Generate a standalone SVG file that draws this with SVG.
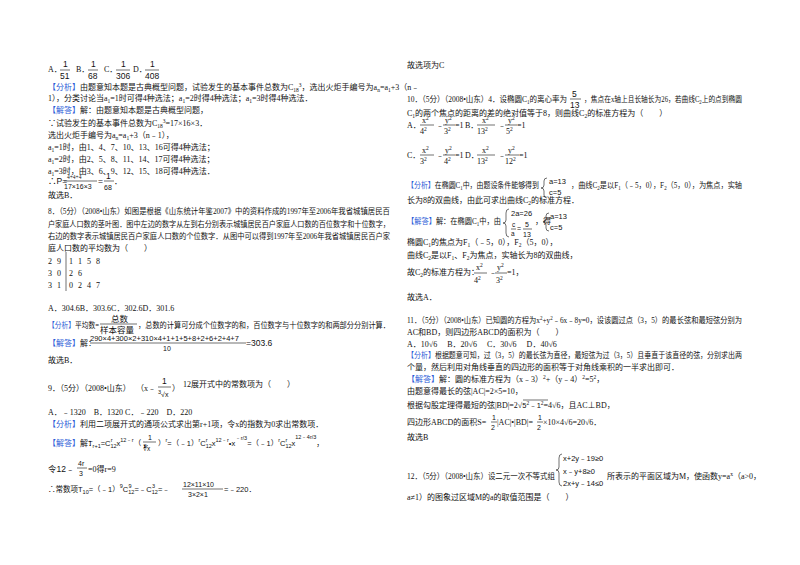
<svg xmlns="http://www.w3.org/2000/svg" width="800" height="565" viewBox="0 0 800 565">
<style>
text{font-family:"Liberation Serif","Noto Sans CJK SC",serif;font-size:8px;fill:#111}
.b{fill:#2a5bd7}
.s{font-size:5.5px}
.f{font-family:"Liberation Sans","Noto Sans CJK SC",sans-serif;font-size:8.5px}
line{stroke:#111;stroke-width:0.6}
path{stroke:#111;stroke-width:0.6;fill:none}
</style>
<rect width="800" height="565" fill="#fff"/>
<g id="left">
<text x="48" y="72">A．</text><text x="63" y="67" class="f">1</text><line x1="60" y1="70" x2="70" y2="70"/><text x="60" y="79" class="f">51</text>
<text x="76" y="72">B．</text><text x="91" y="67" class="f">1</text><line x1="88" y1="70" x2="98" y2="70"/><text x="88" y="79" class="f">68</text>
<text x="104" y="72">C．</text><text x="121" y="67" class="f">1</text><line x1="116" y1="70" x2="130" y2="70"/><text x="116" y="79" class="f">306</text>
<text x="133" y="72">D．</text><text x="150" y="67" class="f">1</text><line x1="145" y1="70" x2="159" y2="70"/><text x="145" y="79" class="f">408</text>
<text x="48" y="90"><tspan class="b">【分析】</tspan>由题意知本题是古典概型问题，试验发生的基本事件总数为C<tspan class="s" dy="2">18</tspan><tspan class="s" dy="-5">3</tspan><tspan dy="3">，选出火炬手编号为a</tspan><tspan class="s" dy="2">n</tspan><tspan dy="-2">=a</tspan><tspan class="s" dy="2">1</tspan><tspan dy="-2">+3（n﹣</tspan></text>
<text x="48" y="101">1），分类讨论当a<tspan class="s" dy="2">1</tspan><tspan dy="-2">=1时可得4种选法；a</tspan><tspan class="s" dy="2">1</tspan><tspan dy="-2">=2时得4种选法；a</tspan><tspan class="s" dy="2">1</tspan><tspan dy="-2">=3时得4种选法．</tspan></text>
<text x="48" y="113"><tspan class="b">【解答】</tspan>解：由题意知本题是古典概型问题，</text>
<text x="48" y="126">∵试验发生的基本事件总数为C<tspan class="s" dy="2">18</tspan><tspan class="s" dy="-5">3</tspan><tspan dy="3">=17×16×3．</tspan></text>
<text x="48" y="138">选出火炬手编号为a<tspan class="s" dy="2">n</tspan><tspan dy="-2">=a</tspan><tspan class="s" dy="2">1</tspan><tspan dy="-2">+3（n﹣1），</tspan></text>
<text x="48" y="150">a<tspan class="s" dy="2">1</tspan><tspan dy="-2">=1时，由1、4、7、10、13、16可得4种选法；</tspan></text>
<text x="48" y="162">a<tspan class="s" dy="2">1</tspan><tspan dy="-2">=2时，由2、5、8、11、14、17可得4种选法；</tspan></text>
<text x="48" y="174">a<tspan class="s" dy="2">1</tspan><tspan dy="-2">=3时，由3、6、9、12、15、18可得4种选法．</tspan></text>
<text x="48" y="184" class="f">∴P=</text><text x="67" y="179" class="s">4+4+4</text><line x1="64" y1="181" x2="97" y2="181"/><text x="64" y="189" class="f" style="font-size:7px">17×16×3</text>
<text x="98" y="184" class="f">=</text><text x="106" y="179" class="f">1</text><line x1="104" y1="181" x2="114" y2="181"/><text x="104" y="190" class="f" style="font-size:7px">68</text><text x="114" y="184">．</text>
<text x="48" y="198">故选B．</text>
<text x="48" y="214" textLength="342" lengthAdjust="spacingAndGlyphs">8．（5分）（2008•山东）如图是根据《山东统计年鉴2007》中的资料作成的1997年至2006年我省城镇居民百</text>
<text x="48" y="227" textLength="342" lengthAdjust="spacingAndGlyphs">户家庭人口数的茎叶图．图中左边的数字从左到右分别表示城镇居民百户家庭人口数的百位数字和十位数字，</text>
<text x="48" y="239" textLength="342" lengthAdjust="spacingAndGlyphs">右边的数字表示城镇居民百户家庭人口数的个位数字．从图中可以得到1997年至2006年我省城镇居民百户家</text>
<text x="48" y="251">庭人口数的平均数为（　　）</text>
<line x1="66" y1="252" x2="66" y2="291"/>
<text x="48" y="264">2</text><text x="57" y="264">9</text><text x="69" y="264">1</text><text x="78" y="264">1</text><text x="87" y="264">5</text><text x="96" y="264">8</text>
<text x="48" y="276">3</text><text x="57" y="276">0</text><text x="69" y="276">2</text><text x="78" y="276">6</text>
<text x="48" y="288">3</text><text x="57" y="288">1</text><text x="69" y="288">0</text><text x="78" y="288">2</text><text x="87" y="288">4</text><text x="96" y="288">7</text>
<text x="48" y="311">A．304.6B．303.6C．302.6D．301.6</text>
<text x="48" y="328" textLength="51" lengthAdjust="spacingAndGlyphs"><tspan class="b">【分析】</tspan>平均数=</text><text x="111" y="322" class="f">总数</text><line x1="100" y1="324" x2="137" y2="324"/><text x="100" y="333" class="f">样本容量</text>
<text x="138" y="328" textLength="252" lengthAdjust="spacingAndGlyphs">，总数的计算可分成个位数字的和，百位数字与十位数字的和两部分分别计算．</text>
<text x="48" y="346"><tspan class="b">【解答】</tspan>解：</text><text x="90" y="341" class="f" style="font-size:7.5px">290×4+300×2+310×4+1+1+5+8+2+6+2+4+7</text><line x1="90" y1="343" x2="246" y2="343"/><text x="163" y="351" class="f" style="font-size:7px">10</text><text x="246" y="346" class="f">=303.6</text>
<text x="48" y="363">故选B．</text>
<text x="48" y="391">9．（5分）（2008•山东）</text><text x="136" y="391">（x﹣</text><text x="162" y="384" class="f">1</text><line x1="158" y1="387" x2="171" y2="387"/><text x="158" y="397" class="f" style="font-size:7px"><tspan class="s" dy="-3">3</tspan><tspan dy="3">√x</tspan></text><text x="172" y="391">）</text>
<text x="183" y="387">12展开式中的常数项为（　　）</text>
<text x="48" y="415">A．﹣1320　B．1320 C．﹣220　D．220</text>
<text x="48" y="427"><tspan class="b">【分析】</tspan>利用二项展开式的通项公式求出第r+1项，令x的指数为0求出常数项．</text>
<text x="48" y="446"><tspan class="b">【解答】</tspan>解：</text>
<text x="88" y="446" class="f" style="font-size:7.5px">T<tspan class="s" dy="2">r+1</tspan><tspan dy="-2">=C</tspan><tspan class="s" dy="2">12</tspan><tspan class="s" dx="-6" dy="-6">r</tspan><tspan dx="4" dy="4">x</tspan><tspan class="s" dy="-4">12﹣r</tspan><tspan dy="4">（﹣</tspan></text>
<text x="148" y="440" class="f" style="font-size:7px">1</text><line x1="143" y1="442" x2="156" y2="442"/><text x="143" y="451" class="f" style="font-size:6.5px">∛x</text>
<text x="158" y="446" class="f" style="font-size:7.5px">）<tspan class="s" dy="-4">r</tspan><tspan dy="4">=（﹣1）</tspan><tspan class="s" dy="-4">r</tspan><tspan dy="4">C</tspan><tspan class="s" dy="2">12</tspan><tspan class="s" dx="-6" dy="-6">r</tspan><tspan dx="4" dy="4">x</tspan><tspan class="s" dy="-4">12﹣r</tspan><tspan dy="4">•x</tspan><tspan class="s" dy="-6">﹣r/3</tspan><tspan dy="6">=（﹣1）</tspan><tspan class="s" dy="-4">r</tspan><tspan dy="4">C</tspan><tspan class="s" dy="2">12</tspan><tspan class="s" dx="-6" dy="-6">r</tspan><tspan dx="4" dy="4">x</tspan><tspan class="s" dy="-7">12﹣4r/3</tspan><tspan dy="7">，</tspan></text>
<text x="48" y="472" class="f">令12﹣</text><text x="78" y="466" class="f" style="font-size:7px">4r</text><line x1="77" y1="468" x2="87" y2="468"/><text x="79" y="476" class="f" style="font-size:7px">3</text><text x="88" y="472">=0得r=9</text>
<text x="48" y="492" class="f" style="font-size:7.5px">∴常数项T<tspan class="s" dy="2">10</tspan><tspan dy="-2">=（﹣1）</tspan><tspan class="s" dy="-4">9</tspan><tspan dy="4">C</tspan><tspan class="s" dy="2">12</tspan><tspan class="s" dx="-6" dy="-6">9</tspan><tspan dx="3" dy="4">=﹣C</tspan><tspan class="s" dy="2">12</tspan><tspan class="s" dx="-6" dy="-6">3</tspan><tspan dx="3" dy="4">=﹣</tspan></text>
<text x="183" y="487" class="f" style="font-size:7px">12×11×10</text><line x1="182" y1="489" x2="223" y2="489"/><text x="188" y="497" class="f" style="font-size:7px">3×2×1</text><text x="224" y="492" class="f" style="font-size:7.5px">=﹣220．</text>
</g>
<g id="right">
<text x="407" y="68">故选项为C</text>
<text x="407" y="102" textLength="160" lengthAdjust="spacingAndGlyphs">10．（5分）（2008•山东）4．设椭圆C<tspan class="s" dy="2">1</tspan><tspan dy="-2">的离心率为</tspan></text>
<text x="572" y="97" class="f">5</text><line x1="570" y1="99" x2="581" y2="99"/><text x="570" y="108" class="f">13</text>
<text x="584" y="102" textLength="158" lengthAdjust="spacingAndGlyphs">，焦点在x轴上且长轴长为26，若曲线C<tspan class="s" dy="2">2</tspan><tspan dy="-2">上的点到椭圆</tspan></text>
<text x="407" y="116">C<tspan class="s" dy="2">1</tspan><tspan dy="-2">的两个焦点的距离的差的绝对值等于8，则曲线C</tspan><tspan class="s" dy="2">2</tspan><tspan dy="-2">的标准方程为（　　）</tspan></text>
<g class="f">
<text x="407" y="128">A．</text><text x="422" y="123">x<tspan class="s" dy="-3">2</tspan></text><line x1="420" y1="125" x2="434" y2="125"/><text x="420" y="134">4<tspan class="s" dy="-3">2</tspan></text><text x="436" y="128">﹣</text><text x="445" y="123">y<tspan class="s" dy="-3">2</tspan></text><line x1="443" y1="125" x2="455" y2="125"/><text x="444" y="134">3<tspan class="s" dy="-3">2</tspan></text><text x="455" y="128">=1</text>
<text x="465" y="128">B．</text><text x="482" y="123">x<tspan class="s" dy="-3">2</tspan></text><line x1="477" y1="125" x2="495" y2="125"/><text x="477" y="134">13<tspan class="s" dy="-3">2</tspan></text><text x="498" y="128">﹣</text><text x="508" y="123">y<tspan class="s" dy="-3">2</tspan></text><line x1="505" y1="125" x2="517" y2="125"/><text x="506" y="134">5<tspan class="s" dy="-3">2</tspan></text><text x="517" y="128">=1</text>
<text x="407" y="158">C．</text><text x="422" y="153">x<tspan class="s" dy="-3">2</tspan></text><line x1="420" y1="155" x2="434" y2="155"/><text x="420" y="164">3<tspan class="s" dy="-3">2</tspan></text><text x="436" y="158">﹣</text><text x="445" y="153">y<tspan class="s" dy="-3">2</tspan></text><line x1="443" y1="155" x2="455" y2="155"/><text x="444" y="164">4<tspan class="s" dy="-3">2</tspan></text><text x="455" y="158">=1</text>
<text x="465" y="158">D．</text><text x="482" y="153">x<tspan class="s" dy="-3">2</tspan></text><line x1="477" y1="155" x2="495" y2="155"/><text x="477" y="164">13<tspan class="s" dy="-3">2</tspan></text><text x="498" y="158">﹣</text><text x="508" y="153">y<tspan class="s" dy="-3">2</tspan></text><line x1="505" y1="155" x2="519" y2="155"/><text x="505" y="164">12<tspan class="s" dy="-3">2</tspan></text><text x="519" y="158">=1</text>
</g>
<text x="407" y="188" textLength="132" lengthAdjust="spacingAndGlyphs"><tspan class="b">【分析】</tspan>在椭圆C<tspan class="s" dy="2">1</tspan><tspan dy="-2">中，由题设条件能够得到</tspan></text>
<path d="M547,178 q-3,0 -3,3 v4 q0,3 -3,3 q3,0 3,3 v4 q0,3 3,3"/>
<text x="549" y="184" class="f" style="font-size:7.5px">a=13</text><text x="549" y="195" class="f" style="font-size:7.5px">c=5</text>
<text x="571" y="188" textLength="171" lengthAdjust="spacingAndGlyphs">，曲线C<tspan class="s" dy="2">2</tspan><tspan dy="-2">是以F</tspan><tspan class="s" dy="2">1</tspan><tspan dy="-2">（﹣5，0），F</tspan><tspan class="s" dy="2">2</tspan><tspan dy="-2">（5，0），为焦点，实轴</tspan></text>
<text x="407" y="203">长为8的双曲线，由此可求出曲线C<tspan class="s" dy="2">2</tspan><tspan dy="-2">的标准方程．</tspan></text>
<text x="407" y="224" textLength="94" lengthAdjust="spacingAndGlyphs"><tspan class="b">【解答】</tspan>解：在椭圆C<tspan class="s" dy="2">1</tspan><tspan dy="-2">中，由</tspan></text>
<path d="M509,209 q-3,0 -3,4 v7 q0,3 -3,3 q3,0 3,3 v7 q0,4 3,4"/>
<text x="511" y="216" class="f" style="font-size:7.5px">2a=26</text>
<text x="512" y="227" class="f" style="font-size:6.5px">c</text><line x1="511" y1="229" x2="516" y2="229"/><text x="511" y="236" class="f" style="font-size:6.5px">a</text>
<text x="517" y="231" class="f" style="font-size:7px">=</text><text x="525" y="227" class="f" style="font-size:7px">5</text><line x1="523" y1="229" x2="532" y2="229"/><text x="523" y="237" class="f" style="font-size:7px">13</text>
<text x="535" y="224">，得</text>
<path d="M549,213 q-3,0 -3,3 v3 q0,3 -3,3 q3,0 3,3 v3 q0,3 3,3"/>
<text x="550" y="219" class="f" style="font-size:7.5px">a=13</text><text x="550" y="230" class="f" style="font-size:7.5px">c=5</text>
<text x="407" y="245">椭圆C<tspan class="s" dy="2">1</tspan><tspan dy="-2">的焦点为F</tspan><tspan class="s" dy="2">1</tspan><tspan dy="-2">（﹣5，0），F</tspan><tspan class="s" dy="2">2</tspan><tspan dy="-2">（5，0），</tspan></text>
<text x="407" y="258">曲线C<tspan class="s" dy="2">2</tspan><tspan dy="-2">是以F</tspan><tspan class="s" dy="2">1</tspan><tspan dy="-2">、F</tspan><tspan class="s" dy="2">2</tspan><tspan dy="-2">为焦点，实轴长为8的双曲线，</tspan></text>
<text x="407" y="275">故C<tspan class="s" dy="2">2</tspan><tspan dy="-2">的标准方程为：</tspan></text>
<g class="f"><text x="476" y="270">x<tspan class="s" dy="-3">2</tspan></text><line x1="474" y1="273" x2="487" y2="273"/><text x="474" y="283">4<tspan class="s" dy="-3">2</tspan></text><text x="489" y="275">﹣</text><text x="497" y="270">y<tspan class="s" dy="-3">2</tspan></text><line x1="495" y1="273" x2="507" y2="273"/><text x="496" y="283">3<tspan class="s" dy="-3">2</tspan></text></g><text x="507" y="275">=1，</text>
<text x="407" y="300">故选A．</text>
<text x="407" y="323" textLength="335" lengthAdjust="spacingAndGlyphs">11．（5分）（2008•山东）已知圆的方程为x<tspan class="s" dy="-3">2</tspan><tspan dy="3">+y</tspan><tspan class="s" dy="-3">2</tspan><tspan dy="3">﹣6x﹣8y=0，设该圆过点（3，5）的最长弦和最短弦分别为</tspan></text>
<text x="407" y="335">AC和BD，则四边形ABCD的面积为（　　）</text>
<text x="407" y="347">A．10√6　 B．20√6　 C．30√6　 D．40√6</text>
<text x="407" y="358" textLength="335" lengthAdjust="spacingAndGlyphs"><tspan class="b">【分析】</tspan>根据题意可知，过（3，5）的最长弦为直径，最短弦为过（3，5）且垂直于该直径的弦，分别求出两</text>
<text x="407" y="370">个量，然后利用对角线垂直的四边形的面积等于对角线乘积的一半求出即可．</text>
<text x="407" y="382"><tspan class="b">【解答】</tspan>解：圆的标准方程为（x﹣3）<tspan class="s" dy="-3">2</tspan><tspan dy="3">+（y﹣4）</tspan><tspan class="s" dy="-3">2</tspan><tspan dy="3">=5</tspan><tspan class="s" dy="-3">2</tspan><tspan dy="3">，</tspan></text>
<text x="407" y="394">由题意得最长的弦|AC|=2×5=10，</text>
<text x="407" y="408">根据勾股定理得最短的弦|BD|=2√<tspan class="f" style="font-size:7.5px">5</tspan><tspan class="s" dy="-3">2</tspan><tspan class="f" dy="3" style="font-size:7.5px">﹣1</tspan><tspan class="s" dy="-3">2</tspan><tspan dy="3">=4√6，且AC⊥BD，</tspan></text>
<line x1="523" y1="400" x2="548" y2="400"/>
<text x="407" y="425">四边形ABCD的面积S=</text><text x="492" y="420" class="f" style="font-size:7px">1</text><line x1="491" y1="422" x2="497" y2="422"/><text x="491" y="430" class="f" style="font-size:7px">2</text>
<text x="497" y="425">|AC|•|BD|=</text><text x="538" y="420" class="f" style="font-size:7px">1</text><line x1="537" y1="422" x2="543" y2="422"/><text x="537" y="430" class="f" style="font-size:7px">2</text><text x="543" y="425">×10×4√6=20√6．</text>
<text x="407" y="440">故选B</text>
<text x="407" y="479" textLength="148" lengthAdjust="spacingAndGlyphs">12．（5分）（2008•山东）设二元一次不等式组</text>
<path d="M562,454 q-3,0 -3,4 v9 q0,3 -3,3 q3,0 3,3 v9 q0,4 3,4"/>
<text x="563" y="461" class="f" style="font-size:7.5px">x+2y﹣19≥0</text>
<text x="563" y="474" class="f" style="font-size:7.5px">x﹣y+8≥0</text>
<text x="563" y="486" class="f" style="font-size:7.5px">2x+y﹣14≤0</text>
<text x="607" y="479">所表示的平面区域为M，使函数y=a<tspan class="s" dy="-3">x</tspan><tspan dy="3">（a&gt;0，</tspan></text>
<text x="407" y="500">a≠1）的图象过区域M的a的取值范围是（　　）</text>
</g>
</svg>
